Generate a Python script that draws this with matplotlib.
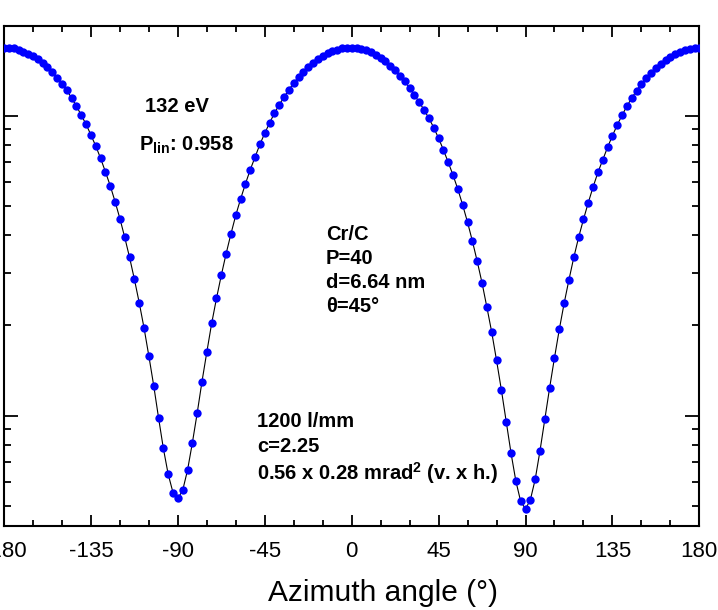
import matplotlib
matplotlib.use('Agg')
import matplotlib.pyplot as plt
from matplotlib.ticker import MultipleLocator, LogLocator, NullFormatter
import numpy as np

plt.rcParams['font.family'] = ['Liberation Sans', 'DejaVu Sans']
plt.rcParams['mathtext.default'] = 'regular'
plt.rcParams['axes.unicode_minus'] = False

# azimuth angle (deg), step 2.5 deg
angle = np.arange(-180, 180.01, 2.5)

# intensity (arb. units)
intensity = [
    1.685, 1.685, 1.677, 1.660, 1.635, 1.609, 1.585, 1.545, 1.495, 1.450,   # -180 .. -157.5
    1.395, 1.339, 1.279, 1.218, 1.143, 1.077, 1.003, 0.936, 0.862, 0.792,   # -155 .. -132.5
    0.721, 0.650, 0.584, 0.517, 0.454, 0.393, 0.337, 0.285, 0.238, 0.196,   # -130 .. -107.5
    0.158, 0.126, 0.0985, 0.0778, 0.0638, 0.0554, 0.0530, 0.0564, 0.0658, 0.0811,  # -105 .. -82.5
    0.1019, 0.130, 0.163, 0.203, 0.246, 0.294, 0.347, 0.404, 0.466, 0.528,  # -80 .. -57.5
    0.593, 0.661, 0.728, 0.803, 0.874, 0.946, 1.019, 1.088, 1.154, 1.221,   # -55 .. -32.5
    1.285, 1.346, 1.402, 1.453, 1.502, 1.545, 1.585, 1.618, 1.643, 1.660,   # -30 .. -7.5
    1.677, 1.685, 1.685, 1.681, 1.668, 1.652, 1.627, 1.597, 1.561, 1.518,   # -5 .. 17.5
    1.468, 1.417, 1.359, 1.302, 1.237, 1.172, 1.108, 1.045, 0.980, 0.912,   # 20 .. 42.5
    0.841, 0.769, 0.699, 0.633, 0.568, 0.503, 0.441, 0.382, 0.327, 0.277,   # 45 .. 67.5
    0.230, 0.190, 0.153, 0.122, 0.0956, 0.0751, 0.0606, 0.0518, 0.0489, 0.0524,  # 70 .. 92.5
    0.0613, 0.0764, 0.0973, 0.124, 0.156, 0.194, 0.237, 0.284, 0.337, 0.393,  # 95 .. 117.5
    0.451, 0.513, 0.579, 0.647, 0.713, 0.785, 0.857, 0.932, 1.003, 1.076,   # 120 .. 142.5
    1.145, 1.212, 1.274, 1.337, 1.390, 1.442, 1.492, 1.535, 1.569, 1.605,   # 145 .. 167.5
    1.632, 1.651, 1.670, 1.679, 1.684,                                      # 170 .. 180
]

xticks = [-180, -135, -90, -45, 0, 45, 90, 135, 180]

fig = plt.figure(figsize=(7.18, 6.10), dpi=100)
ax = fig.add_axes([0.0056, 0.1382, 0.9684, 0.8197])

ax.plot(angle, intensity, color='black', lw=0.8, zorder=2)
ax.plot(angle, intensity, 'o', color='#0000ff', ms=6, mec='none', zorder=3)

ax.set_yscale('log')
ax.set_xlim(-180, 180)
ax.set_ylim(0.043, 1.995)

ax.set_xticks(xticks)
ax.set_xticklabels([str(t) for t in xticks])
ax.xaxis.set_minor_locator(MultipleLocator(15))
ax.yaxis.set_major_locator(LogLocator(base=10, numticks=10))
ax.yaxis.set_minor_locator(LogLocator(base=10, subs=np.arange(2, 10), numticks=20))
ax.yaxis.set_minor_formatter(NullFormatter())

ax.tick_params(which='both', direction='in', top=True, right=True, width=1.3,
               labelleft=False, labelsize=16, pad=11)
ax.tick_params(axis='x', which='major', length=8)
ax.tick_params(axis='x', which='minor', length=4.5)
ax.tick_params(axis='y', which='major', length=10)
ax.tick_params(axis='y', which='minor', length=5)
for sp in ax.spines.values():
    sp.set_linewidth(1.5)

# label sits a bit right of the axes centre in the original
ax.set_xlabel('Azimuth angle (°)', fontsize=21.5)
ax.xaxis.label.set_va('center')
ax.xaxis.set_label_coords(0.5444, -0.134)

# annotations
kw = dict(transform=ax.transAxes, fontsize=14.5, fontweight='bold', va='center', ha='left')
def put(px, py, s):
    # px, py in figure pixels of the reference
    x = (px - 4) / 695.3
    y = (525.7 - py) / 500.0
    ax.text(x, y, s, **kw)

put(145, 107, '132 eV')
put(139, 145, 'P$_{lin}$: 0.958')
put(326, 235, 'Cr/C')
put(326, 259, 'P=40')
put(326, 283, 'd=6.64 nm')
put(326, 307, 'θ=45°')
put(257, 422, '1200 l/mm')
put(257, 447, 'c=2.25')
put(257, 473, '0.56 x 0.28 mrad$^{2}$ (v. x h.)')

fig.savefig('out.png', dpi=100)
